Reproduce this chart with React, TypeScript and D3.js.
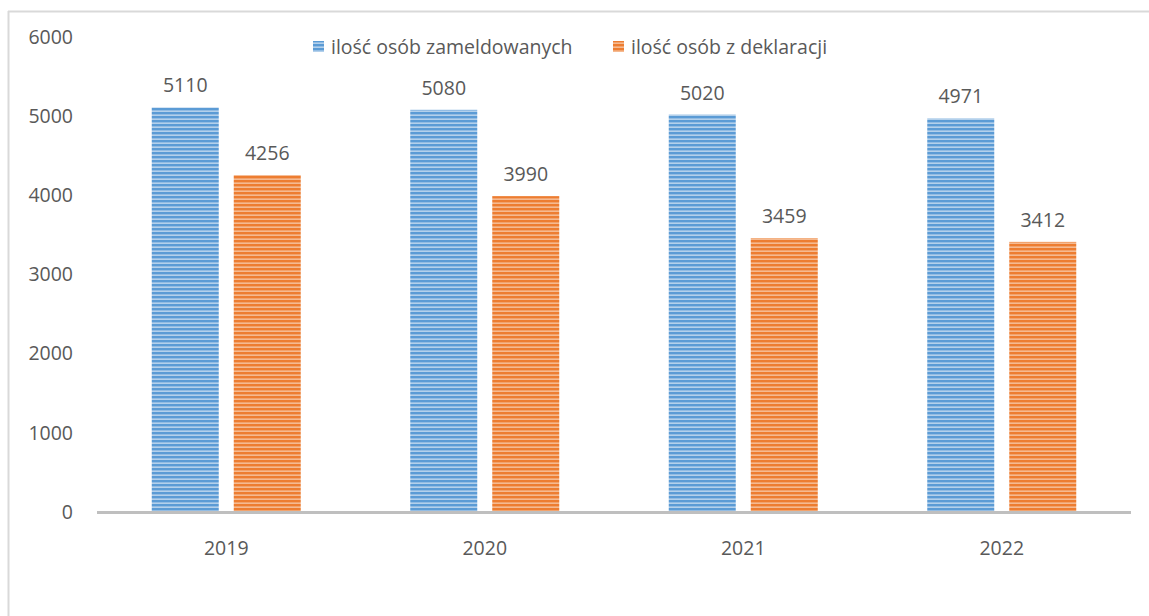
import React from "react";
import * as d3 from "d3";

const years = ["2019", "2020", "2021", "2022"];
const seriesNames = ["ilość osób zameldowanych", "ilość osób z deklaracji"];
const zameldowanych = [5110, 5080, 5020, 4971];
const deklaracji = [4256, 3990, 3459, 3412];
const yTicks = [0, 1000, 2000, 3000, 4000, 5000, 6000];

const W = 1149;
const H = 616;
const FONT = "'Open Sans', 'DejaVu Sans', sans-serif";
const TEXT = "#595959";
const FS = 19.5;

export default function App() {
  const x0 = d3.scaleBand<string>().domain(years).range([97, 1131]);
  const y = d3.scaleLinear().domain([0, 6000]).range([512, 37]);
  const groupW = 149;
  const colors = ["#5b9bd5", "#ed7d31"];
  const lights = ["#c9ddf1", "#f8c9a8"];
  const values = [zameldowanych, deklaracji];

  return (
    <svg
      width={W}
      height={H}
      style={{ position: "absolute", left: 0, top: 0, display: "block", background: "#fff" }}
      fontFamily={FONT}
    >
      <defs>
        {colors.map((c, i) => (
          <pattern key={i} id={`hatch${i}`} patternUnits="userSpaceOnUse" width={8} height={4}>
            <rect width={8} height={4} fill={c} />
            <rect y={2.5} width={8} height={1.3} fill={lights[i]} />
          </pattern>
        ))}
      </defs>
      {/* chart frame */}
      <line x1={8.5} y1={11} x2={8.5} y2={H} stroke="#d9d9d9" strokeWidth={2} />
      <line x1={8} y1={11.5} x2={W} y2={11.5} stroke="#d9d9d9" strokeWidth={2} />

      {/* y tick labels */}
      {yTicks.map((t) => (
        <text key={t} x={73} y={y(t)} dy="0.35em" textAnchor="end" fontSize={FS} fill={TEXT}>
          {t}
        </text>
      ))}

      {/* bars */}
      {years.map((yr, gi) => {
        const cx = (x0(yr) as number) + x0.bandwidth() / 2;
        const x1 = d3
          .scaleBand<string>()
          .domain(seriesNames)
          .range([cx - groupW / 2, cx + groupW / 2])
          .paddingInner(0.183);
        return (
          <g key={yr}>
            {seriesNames.map((s, si) => {
              const v = values[si][gi];
              const bx = x1(s) as number;
              return (
                <g key={s}>
                  <rect
                    x={bx}
                    y={y(v)}
                    width={x1.bandwidth()}
                    height={y(0) - y(v)}
                    fill={`url(#hatch${si})`}
                  />
                  <text
                    x={bx + x1.bandwidth() / 2}
                    y={y(v) - 15}
                    textAnchor="middle"
                    fontSize={FS}
                    fill={TEXT}
                  >
                    {v}
                  </text>
                </g>
              );
            })}
            <text x={cx} y={555} textAnchor="middle" fontSize={FS} fill={TEXT}>
              {yr}
            </text>
          </g>
        );
      })}

      {/* x axis line */}
      <line x1={97} x2={1131} y1={y(0) + 0.5} y2={y(0) + 0.5} stroke="#bfbfbf" strokeWidth={3} />

      {/* legend */}
      {seriesNames.map((s, i) => {
        const lx = i === 0 ? 313 : 613;
        return (
          <g key={s}>
            <rect x={lx} y={41} width={11} height={11} fill={`url(#hatch${i})`} />
            <text x={lx + 18} y={54} fontSize={FS} fill={TEXT}>
              {s}
            </text>
          </g>
        );
      })}
    </svg>
  );
}
